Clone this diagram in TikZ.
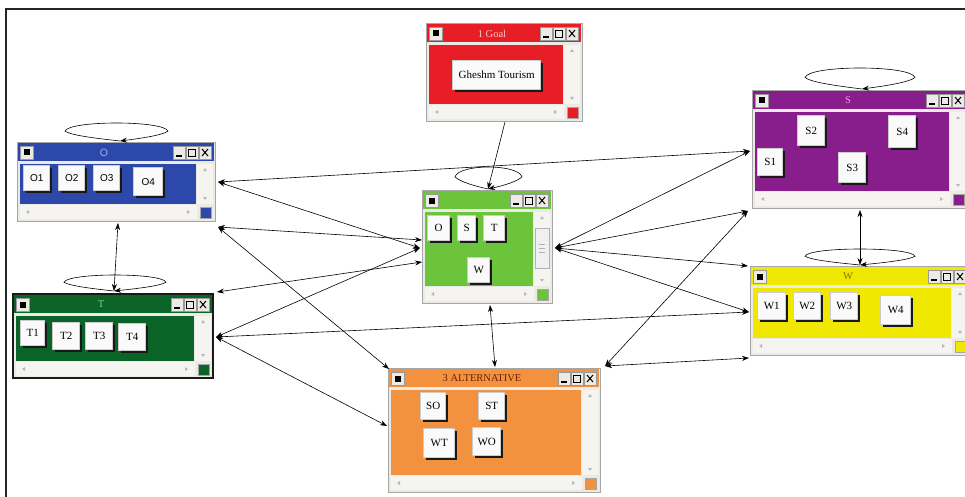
\documentclass[tikz,border=0pt]{standalone}
\usepackage{fontspec}
\setmainfont{Liberation Serif}
\newfontfamily\sansf{Liberation Sans}
\usetikzlibrary{arrows.meta,shadows}

\definecolor{chrome}{RGB}{236,234,228}
\definecolor{scrollbg}{RGB}{245,244,241}
\definecolor{goalred}{RGB}{232,30,38}
\definecolor{oblue}{RGB}{44,72,170}
\definecolor{cgreen}{RGB}{108,196,60}
\definecolor{spurple}{RGB}{136,30,140}
\definecolor{wyellow}{RGB}{240,232,0}
\definecolor{tgreen}{RGB}{10,100,40}
\definecolor{aorange}{RGB}{242,146,62}

\newcommand\titlefont{\fontsize{10.5}{12}\selectfont}
\newcommand\btnfont{\fontsize{11}{13}\selectfont}

\tikzset{
  winframe/.style={draw=gray!70, fill=chrome, inner sep=0pt, outer sep=0pt, line width=0.8pt},
  btn/.style={draw=gray!40, line width=1.4pt, fill=gray!4, inner sep=0pt, font=\btnfont,
    drop shadow={shadow xshift=2.5pt, shadow yshift=-2.5pt, fill=black!90, opacity=1}},
  conn/.style={draw=black, line width=0.6pt},
  dbl/.style={conn, {Stealth[length=7pt,width=5pt]}-{Stealth[length=7pt,width=5pt]}},
  sgl/.style={conn, -{Stealth[length=7pt,width=5pt]}},
}

% #1 name, #2 x1, #3 y1, #4 x2, #5 y2, #6 body colour, #7 title, #8 title colour
\newcommand\win[8]{%
  \node[winframe, anchor=north west, minimum width={(#4-#2)*1pt}, minimum height={(#5-#3)*1pt}] (#1) at (#2,#3) {};
  \fill[#6] ({#2+1},{#3+1}) rectangle ({#4-1},{#3+19});
  \fill[#6] ({#2+3},{#3+22}) rectangle ({#4-19},{#5-17});
  \fill[scrollbg] ({#4-18},{#3+22}) rectangle ({#4-2},{#5-17});
  \fill[scrollbg] ({#2+3},{#5-16}) rectangle ({#4-18},{#5-2});
  \filldraw[fill=#6, draw=gray!70] ({#4-15},{#5-14}) rectangle ({#4-4},{#5-3});
  \fill[gray!55] ({#4-12},{#3+29}) -- ({#4-8},{#3+29}) -- ({#4-10},{#3+26}) -- cycle;
  \fill[gray!55] ({#4-12},{#5-24}) -- ({#4-8},{#5-24}) -- ({#4-10},{#5-21}) -- cycle;
  \fill[gray!55] ({#2+9},{#5-9}) -- ({#2+12},{#5-11}) -- ({#2+12},{#5-7}) -- cycle;
  \fill[gray!55] ({#4-25},{#5-9}) -- ({#4-28},{#5-11}) -- ({#4-28},{#5-7}) -- cycle;
  \filldraw[fill=chrome, draw=gray!80] ({#2+3},{#3+4}) rectangle ({#2+16},{#3+17});
  \fill[black] ({#2+6.5},{#3+7.5}) rectangle ({#2+12.5},{#3+13.5});
  \foreach \k in {42,29,16} {\filldraw[fill=chrome, draw=gray!80] ({#4-\k},{#3+4}) rectangle ({#4-\k+12},{#3+17});}
  \draw[line width=1.6pt] ({#4-39},{#3+14}) -- ({#4-33},{#3+14});
  \draw[line width=0.8pt] ({#4-26.5},{#3+7}) rectangle ({#4-19.5},{#3+14.5});
  \draw[line width=1.6pt] ({#4-26.5},{#3+7.5}) -- ({#4-19.5},{#3+7.5});
  \draw[line width=1pt] ({#4-13},{#3+7}) -- ({#4-7},{#3+14}) ({#4-13},{#3+14}) -- ({#4-7},{#3+7});
  \node[font=\titlefont, text=#8] at ({(#2+#4)/2-12},{#3+10.5}) {#7};
}

% #1 name, #2 x1, #3 y1, #4 x2, #5 y2, #6 text
\newcommand\btn[6]{%
  \node[btn, anchor=north west, minimum width={(#4-#2-3)*1pt}, minimum height={(#5-#3-3)*1pt}] (#1) at (#2,#3) {#6};
}

% #1 tip coordinate, #2 left extent, #3 right extent, #4 height
\newcommand\selfloop[4]{%
  \draw[sgl] (#1) .. controls ([shift={({-0.35*#2},{-0.12*#4})}]#1) and ([shift={({-#2+6},{-0.3*#4})}]#1) ..
    ([shift={({-#2},{-0.55*#4})}]#1) .. controls ([shift={({-#2+4},{-1.15*#4})}]#1) and ([shift={({#3-4},{-1.15*#4})}]#1) ..
    ([shift={(#3,{-0.55*#4})}]#1) .. controls ([shift={({#3-6},{-0.3*#4})}]#1) and ([shift={({0.35*#3},{-0.12*#4})}]#1) .. (#1);
}

\begin{document}
\begin{tikzpicture}[x=1pt,y=-1pt]
\clip (0,0) rectangle (965,497);
\fill[white] (0,0) rectangle (965,497);

% outer frame
\draw[line width=2.2pt, black!85] (966,9) -- (6,9) -- (6,498);

% windows
\win{Goal}{426}{23}{582}{121}{goalred}{1 Goal}{{rgb,255:red,250;green,200;blue,200}}
\btn{gh}{452}{60}{543}{92}{Gheshm Tourism}

\win{O}{17}{142}{215}{221}{oblue}{\sansf O}{{rgb,255:red,150;green,180;blue,240}}
\btn{O1}{23}{165}{52}{193}{\sansf\fontsize{10}{12}\selectfont O1}
\btn{O2}{58}{165}{87}{193}{\sansf\fontsize{10}{12}\selectfont O2}
\btn{O3}{93}{165}{122}{193}{\sansf\fontsize{10}{12}\selectfont O3}
\btn{O4}{133}{167}{165}{198}{\sansf\fontsize{10}{12}\selectfont O4}

\win{Gr}{422}{190}{552}{303}{cgreen}{}{white}
\filldraw[fill=gray!12, draw=gray!60] (535,228) rectangle (549,268);
\draw[gray!60] (539,244) -- (545,244) (539,248) -- (545,248) (539,252) -- (545,252);
\btn{gO}{427}{215}{452}{243}{O}
\btn{gS}{457}{215}{478}{243}{S}
\btn{gT}{483}{215}{507}{243}{T}
\btn{gW}{467}{257}{492}{285}{W}

\win{S}{752}{90}{968}{208}{spurple}{S}{{rgb,255:red,240;green,160;blue,220}}
\btn{S1}{757}{148}{785}{178}{S1}
\btn{S2}{797}{115}{827}{148}{S2}
\btn{S3}{838}{152}{868}{185}{S3}
\btn{S4}{888}{115}{918}{150}{S4}

\win{W}{750}{266}{970}{355}{wyellow}{W}{{rgb,255:red,130;green,120;blue,0}}
\btn{W1}{757}{292}{788}{322}{W1}
\btn{W2}{793}{292}{823}{322}{W2}
\btn{W3}{830}{292}{860}{322}{W3}
\btn{W4}{880}{295}{913}{327}{W4}

\win{T}{13}{294}{213}{378}{tgreen}{T}{{rgb,255:red,110;green,210;blue,130}}
\draw[line width=2.5pt, black!90] (T.north west) rectangle (T.south east);
\btn{T1}{20}{320}{47}{348}{T1}
\btn{T2}{52}{322}{82}{352}{T2}
\btn{T3}{85}{322}{115}{352}{T3}
\btn{T4}{118}{323}{148}{353}{T4}

\win{Alt}{388}{368}{600}{492}{aorange}{3 ALTERNATIVE}{{rgb,255:red,110;green,30;blue,10}}
\btn{SO}{420}{392}{448}{422}{SO}
\btn{ST}{478}{392}{507}{422}{ST}
\btn{WT}{423}{428}{457}{460}{WT}
\btn{WO}{472}{427}{503}{458}{WO}

% ports
\coordinate (Or1) at (218,182);
\coordinate (Or2) at (218,227);
\coordinate (Ob) at (118,223);
\coordinate (Tt) at (114,291);
\coordinate (Tr1) at (217,292);
\coordinate (Tr2) at (216,337);
\coordinate (Gl1) at (422,240);
\coordinate (Gl2) at (420,248);
\coordinate (Gl3) at (422,262);
\coordinate (Grr) at (555,248);
\coordinate (Gb) at (490,305);
\coordinate (Gt) at (488,189);
\coordinate (Goalb) at (505,122);
\coordinate (Sl1) at (750,151);
\coordinate (Sl2) at (748,211);
\coordinate (Sb) at (860,210);
\coordinate (St) at (862,89);
\coordinate (Wl1) at (748,266);
\coordinate (Wl2) at (749,312);
\coordinate (Wl3) at (749,358);
\coordinate (Wt) at (860,265);
\coordinate (Otp) at (120,141);
\coordinate (Atl) at (389,369);
\coordinate (Al) at (387,426);
\coordinate (At) at (495,367);
\coordinate (Ar) at (605,366);

% self loops
\selfloop{Otp}{55}{48}{18}
\selfloop{Tt}{50}{52}{16}
\selfloop{Gt}{33}{34}{22}
\selfloop{St}{57}{53}{21}
\selfloop{Wt}{55}{55}{16}

% connectors
\draw[sgl] (Goalb) -- (Gt);
\draw[dbl] (Or1) -- (Sl1);
\draw[dbl] (Or1) -- (Gl2);
\draw[dbl] (Or2) -- (Gl1);
\draw[dbl] (Or2) -- (Atl);
\draw[dbl] (Ob) -- (Tt);
\draw[dbl] (Tr1) -- (Gl3);
\draw[dbl] (Tr2) -- (Gl2);
\draw[dbl] (Tr2) -- (Wl2);
\draw[dbl] (Tr2) -- (Al);
\draw[dbl] (Grr) -- (Sl1);
\draw[dbl] (Grr) -- (Sl2);
\draw[dbl] (Grr) -- (Wl1);
\draw[dbl] (Grr) -- (Wl2);
\draw[dbl] (Gb) -- (At);
\draw[dbl] (Ar) -- (Sl2);
\draw[dbl] (Ar) -- (Wl3);
\draw[dbl] (Sb) -- (Wt);
\end{tikzpicture}
\end{document}
